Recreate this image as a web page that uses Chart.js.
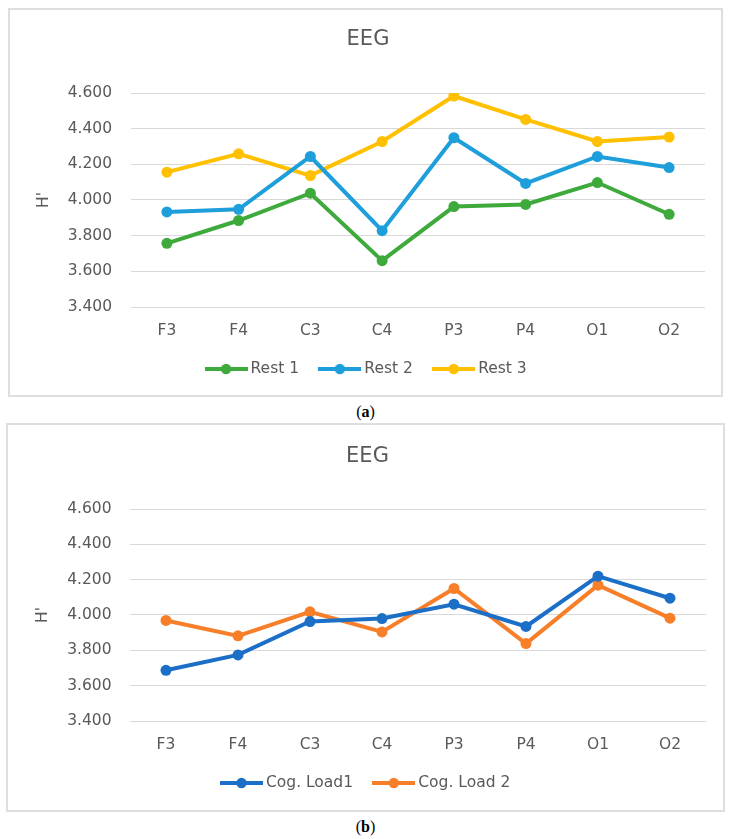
<!DOCTYPE html>
<html>
<head>
<meta charset="utf-8">
<script src="https://cdn.jsdelivr.net/npm/chart.js@4"></script>
<style>
  html, body { margin: 0; padding: 0; background: #fff; }
  body { width: 731px; height: 839px; position: relative; overflow: hidden; }
  .box { position: absolute; border: 2px solid #dedede; background: #fff; }
  .box canvas { display: block; }
  .cap { position: absolute; left: 0; width: 731px; text-align: center;
         font-family: 'Liberation Serif', 'DejaVu Serif', serif; font-size: 16px; color: #000; }
  .cap b { font-weight: bold; }
</style>
</head>
<body>
<div class="box" id="boxA" style="left:8px; top:8px; width:711px; height:385px;">
  <canvas id="chartA" width="711" height="385"></canvas>
</div>
<div class="cap" style="top:403px;">(<b>a</b>)</div>
<div class="box" id="boxB" style="left:6px; top:423px; width:715px; height:385px;">
  <canvas id="chartB" width="715" height="385"></canvas>
</div>
<div class="cap" style="top:818px;">(<b>b</b>)</div>

<script>
// ---- Data ----
const categories = ['F3', 'F4', 'C3', 'C4', 'P3', 'P4', 'O1', 'O2'];
const rest1 = [3.757, 3.885, 4.038, 3.660, 3.963, 3.975, 4.098, 3.920];
const rest2 = [3.933, 3.948, 4.244, 3.828, 4.349, 4.093, 4.244, 4.182];
const rest3 = [4.156, 4.259, 4.137, 4.328, 4.583, 4.452, 4.328, 4.353];
const cogLoad1 = [3.687, 3.774, 3.963, 3.980, 4.061, 3.935, 4.220, 4.095];
const cogLoad2 = [3.969, 3.882, 4.018, 3.904, 4.150, 3.838, 4.169, 3.982];
const yMin = 3.4;
const yMax = 4.6;
const yStep = 0.2;
const chartTitle = 'EEG';
const yAxisTitle = "H'";

const TEXT = '#595959';
const GRID = '#d9d9d9';
Chart.defaults.font.family = "'DejaVu Sans', sans-serif";
Chart.defaults.color = TEXT;

function legendSymbol(color) {
  const c = document.createElement('canvas');
  c.width = 43; c.height = 12;
  const g = c.getContext('2d');
  g.strokeStyle = color; g.lineWidth = 3.8;
  g.beginPath(); g.moveTo(0, 6); g.lineTo(43, 6); g.stroke();
  g.fillStyle = color;
  g.beginPath(); g.arc(21.5, 6, 5.2, 0, Math.PI * 2); g.fill();
  return c;
}

function ds(label, data, color) {
  return {
    label, data,
    borderColor: color, backgroundColor: color,
    pointBackgroundColor: color, pointBorderWidth: 0,
    borderWidth: 4, pointRadius: 5.5, pointHoverRadius: 5.5,
    tension: 0, _sym: legendSymbol(color)
  };
}

function makeChart(id, datasets, p) {
  return new Chart(document.getElementById(id), {
    type: 'line',
    data: { labels: categories, datasets },
    options: {
      responsive: false, animation: false, devicePixelRatio: 1,
      layout: { padding: { left: p.padL, right: p.padR, top: 0, bottom: p.padB } },
      plugins: {
        tooltip: { enabled: false },
        title: {
          display: true, text: chartTitle, color: TEXT,
          font: { size: 21, weight: 'normal', lineHeight: 1.2 },
          padding: { top: p.titleTop, bottom: p.titleBottom }
        },
        legend: {
          position: 'bottom',
          labels: {
            color: TEXT, font: { size: 15.5 },
            usePointStyle: true, pointStyleWidth: 33.5, padding: 24,
            generateLabels(chart) {
              const items = Chart.defaults.plugins.legend.labels.generateLabels(chart);
              items.forEach(it => { it.pointStyle = chart.data.datasets[it.datasetIndex]._sym; });
              return items;
            }
          }
        }
      },
      scales: {
        x: {
          type: 'category', offset: true,
          grid: { display: false, drawTicks: false },
          border: { display: false },
          ticks: { color: TEXT, font: { size: 15.5 }, padding: p.xPad, maxRotation: 0 },
          afterFit(s) { s.height = p.xH; }
        },
        y: {
          min: yMin, max: yMax,
          grid: { color: GRID, lineWidth: 1, drawTicks: false },
          border: { display: false },
          ticks: {
            stepSize: yStep, color: TEXT, font: { size: 15.5 }, padding: p.yPad,
            callback: v => Number(v).toFixed(3)
          },
          title: {
            display: true, text: yAxisTitle, color: TEXT,
            font: { size: 15.5, lineHeight: 1.2 }, padding: { top: p.yTitlePad, bottom: 0 }
          },
          afterFit(s) { s.width = p.yW; }
        }
      }
    }
  });
}

makeChart('chartA', [
  ds('Rest 1', rest1, '#3EAA3C'),
  ds('Rest 2', rest2, '#1E9FDB'),
  ds('Rest 3', rest3, '#FFC000')
], { padL: 21, padR: 16, padB: 8.25, titleTop: 17.4, titleBottom: 40.4,
     xH: 30.25, xPad: 14.7, yW: 100, yPad: 19, yTitlePad: 3.7 });

makeChart('chartB', [
  ds('Cog. Load1', cogLoad1, '#1C6FC6'),
  ds('Cog. Load 2', cogLoad2, '#F77F2A')
], { padL: 21, padR: 17, padB: 9.25, titleTop: 19.4, titleBottom: 39.4,
     xH: 30.25, xPad: 14.7, yW: 101, yPad: 18.5, yTitlePad: 4.7 });
</script>
</body>
</html>
